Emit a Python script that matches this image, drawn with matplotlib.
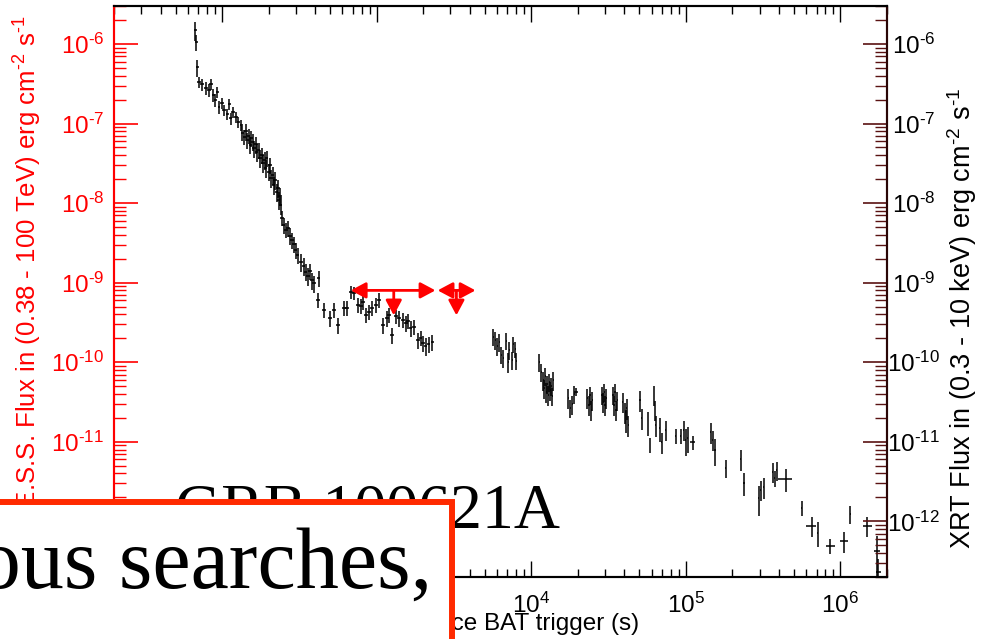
import matplotlib
matplotlib.use("Agg")
import numpy as np
import matplotlib.pyplot as plt
from matplotlib.patches import Rectangle
from matplotlib.ticker import LogLocator, NullFormatter, FixedLocator, FuncFormatter
from matplotlib.transforms import offset_copy

plt.rcParams['font.family'] = 'Liberation Sans'
plt.rcParams['mathtext.fontset'] = 'custom'
plt.rcParams['mathtext.rm'] = 'Liberation Sans'
plt.rcParams['mathtext.it'] = 'Liberation Sans:italic'
plt.rcParams['mathtext.bf'] = 'Liberation Sans:bold'

# Swift-XRT light curve (0.3 - 10 keV)
xrt_time = [
    67, 68, 69, 71, 74,
    78.8, 82.4, 84.9, 87.5, 90.1, 92.9, 95.7, 100, 103, 108, 111, 114, 118, 123, 127, 133,
    135, 139, 143, 145, 149, 152, 154, 158, 161, 166, 168, 173, 176, 181, 184, 189, 192, 195,
    201, 204, 207, 213, 216, 220, 226, 230, 233, 237, 240,
    244, 251, 259, 267, 275, 283, 292, 300, 309, 324, 338, 348, 359, 370, 381, 393, 422,
    416, 455, 498, 528, 560, 613, 640, 680, 711, 754, 789, 813, 849, 888, 929, 986, 1031,
    1093, 1161, 1195, 1250, 1327, 1387, 1472, 1540, 1585, 1657, 1734, 1840, 1923, 1982,
    2072, 2165, 2297,
    5690, 5860, 6040, 6220, 6400, 6590, 6900, 7110, 7210, 7540, 7650, 7890, 8000,
    11270, 11600, 11950, 12130, 12300, 12500, 12680, 12900, 13060, 13300, 13460, 13650, 13900,
    17350, 17900, 18400, 18940, 19500,
    23000, 23650, 24000, 24400, 24800,
    28700, 29200, 29600, 30000, 30500,
    33800, 34300, 34800, 35300, 35900,
    39200, 40400, 41000, 41600, 42300,
    50500, 52000, 56900, 58600, 62200, 63100, 64000, 68000, 70000, 74300,
    86100, 92900, 97100, 100000, 103000, 111000,
    145000, 149000, 154000, 181000, 226000, 237000, 296000, 305000, 318000,
    364000, 375000, 386000, 442000, 560000, 650000, 711000, 861000, 1060000, 1160000,
    1490000, 1730000, 1760000,
]
xrt_time_err = [
    1.5, 1.5, 1.5, 2, 2,
    2, 2, 2, 2, 2, 2, 2, 2.5, 2.5, 2.5, 2.5, 2.5, 3, 3, 3, 3,
    3, 3, 3.5, 3.5, 3.5, 3.5, 3.5, 4, 4, 4, 4, 4, 4, 4.5, 4.5, 4.5, 4.5, 4.5,
    5, 5, 5, 5, 5, 5, 5.5, 5.5, 5.5, 6, 6,
    6, 6, 6.5, 6.5, 7, 7, 7, 7.5, 7.5, 8, 8, 8.5, 9, 9, 9.5, 10, 10,
    12, 13, 15, 15, 16, 18, 19, 20, 21, 22, 23, 24, 25, 26, 27, 29, 30,
    32, 34, 35, 37, 39, 41, 43, 45, 46, 48, 50, 54, 56, 58,
    60, 63, 67,
    60, 60, 60, 60, 60, 60, 60, 60, 60, 60, 60, 60, 60,
    100, 100, 100, 100, 100, 100, 100, 100, 100, 100, 100, 100, 100,
    150, 150, 150, 150, 700,
    200, 200, 200, 200, 200,
    250, 250, 250, 250, 250,
    300, 300, 300, 300, 300,
    300, 300, 300, 300, 300,
    400, 400, 400, 400, 400, 400, 400, 500, 500, 500,
    600, 600, 600, 600, 600, 4000,
    1500, 1500, 1500, 2000, 2500, 2500, 3000, 3000, 3000,
    4000, 4000, 4000, 46000, 5000, 47000, 6000, 55000, 60000, 8000,
    100000, 70000, 70000,
]
xrt_flux = [
    1.5e-6, 1.06e-6, 5.1e-7, 3.3e-7, 3.1e-7,
    2.8e-7, 2.64e-7, 3.14e-7, 2.29e-7, 1.98e-7, 2.5e-7, 1.62e-7, 1.81e-7, 1.48e-7, 1.32e-7,
    1.76e-7, 1.17e-7, 1.40e-7, 1.21e-7, 1.05e-7, 9.6e-8,
    7.6e-8, 6.8e-8, 8.1e-8, 6.2e-8, 7.0e-8, 5.4e-8, 6.6e-8, 5.9e-8, 4.9e-8, 5.5e-8, 4.4e-8,
    4.66e-8, 3.7e-8, 4.03e-8, 3.2e-8, 3.49e-8, 2.77e-8, 3.7e-8,
    2.47e-8, 3.0e-8, 2.07e-8, 2.26e-8, 1.69e-8, 1.95e-8, 1.38e-8, 1.55e-8, 1.10e-8, 1.23e-8, 9.5e-9,
    6.5e-9, 5.3e-9, 4.6e-9, 4.9e-9, 3.9e-9, 3.45e-9, 3.07e-9, 2.58e-9, 2.23e-9, 1.82e-9,
    1.63e-9, 1.37e-9, 1.22e-9, 1.41e-9, 1.08e-9, 9.9e-10, 1.15e-9,
    6.1e-10, 4.55e-10, 3.61e-10, 4.55e-10, 2.95e-10, 4.8e-10, 4.8e-10, 7.7e-10, 7.45e-10,
    5.3e-10, 5.1e-10, 5.7e-10, 3.94e-10, 4.3e-10, 4.8e-10, 5.3e-10, 6.1e-10,
    2.95e-10, 3.61e-10, 3.94e-10, 2.21e-10, 3.8e-10, 3.61e-10, 3.41e-10, 3.13e-10, 3.3e-10,
    2.7e-10, 2.79e-10, 1.91e-10, 2.03e-10, 1.75e-10, 1.6e-10, 1.7e-10, 1.8e-10,
    2.08e-10, 1.91e-10, 1.61e-10, 1.80e-10, 1.24e-10, 1.14e-10, 1.86e-10, 1.01e-10, 1.43e-10,
    1.07e-10, 1.70e-10, 1.47e-10, 1.04e-10,
    1.01e-10, 7.6e-11, 6.0e-11, 4.76e-11, 6.75e-11, 4.25e-11, 5.36e-11, 3.9e-11, 5.67e-11,
    4.5e-11, 5.06e-11, 3.79e-11, 6.0e-11,
    3.57e-11, 2.67e-11, 3.0e-11, 4.0e-11, 4.25e-11,
    3.57e-11, 2.92e-11, 3.9e-11, 2.52e-11, 3.37e-11,
    3.9e-11, 3.18e-11, 4.25e-11, 2.92e-11, 3.57e-11,
    3.9e-11, 2.92e-11, 4.25e-11, 2.52e-11, 3.37e-11,
    3.18e-11, 2.38e-11, 1.89e-11, 2.67e-11, 1.64e-11,
    3.37e-11, 2.0e-11, 1.78e-11, 9.2e-12, 3.9e-11, 2.52e-11, 1.64e-11, 1.5e-11, 1.0e-11, 1.42e-11,
    1.19e-11, 1.19e-11, 1.42e-11, 1.06e-11, 1.12e-11, 1.0e-11,
    1.34e-11, 1.06e-11, 7.9e-12, 4.7e-12, 6.1e-12, 3.06e-12, 1.98e-12, 2.49e-12, 2.72e-12,
    4.2e-12, 3.53e-12, 4.4e-12, 3.43e-12, 1.48e-12, 8.8e-13, 7.2e-13, 4.93e-13, 5.7e-13, 1.25e-12,
    8.8e-13, 4.27e-13, 2.33e-13,
]
xrt_flux_err = [
    4.0e-7, 2.5e-7, 1.2e-7, 5e-8, 5e-8,
    5e-8, 5e-8, 5e-8, 4e-8, 3.5e-8, 4e-8, 3e-8, 3e-8, 2.5e-8, 2.2e-8,
    3e-8, 2e-8, 2.2e-8, 2e-8, 1.7e-8, 1.5e-8,
    1.6e-8, 1.5e-8, 1.7e-8, 1.4e-8, 1.5e-8, 1.3e-8, 1.5e-8, 1.4e-8, 1.2e-8, 1.3e-8, 1.1e-8,
    1.1e-8, 9e-9, 9.5e-9, 8e-9, 8.5e-9, 7e-9, 8.5e-9,
    6e-9, 7e-9, 5e-9, 5.5e-9, 4.2e-9, 4.8e-9, 3.5e-9, 4e-9, 2.8e-9, 3e-9, 2.4e-9,
    1.4e-9, 1.2e-9, 1.0e-9, 1.1e-9, 9e-10, 8e-10, 7e-10, 6e-10, 5e-10, 4.5e-10,
    4e-10, 3.3e-10, 3e-10, 3.3e-10, 2.6e-10, 2.4e-10, 2.7e-10,
    1.3e-10, 1.0e-10, 8e-11, 1.0e-10, 7e-11, 1.0e-10, 1.0e-10, 1.4e-10, 1.4e-10,
    1.1e-10, 1.1e-10, 1.2e-10, 8e-11, 9e-11, 1.0e-10, 1.1e-10, 1.3e-10,
    7e-11, 8e-11, 8e-11, 5e-11, 8e-11, 8e-11, 7e-11, 7e-11, 7e-11,
    6e-11, 6e-11, 4.5e-11, 4.5e-11, 4e-11, 4e-11, 4e-11, 4e-11,
    5e-11, 5e-11, 4e-11, 4.5e-11, 3e-11, 3e-11, 4.5e-11, 2.8e-11, 3.5e-11,
    2.8e-11, 4e-11, 3.5e-11, 2.5e-11,
    2.5e-11, 2e-11, 1.6e-11, 1.3e-11, 1.7e-11, 1.2e-11, 1.4e-11, 1.1e-11, 1.5e-11,
    1.2e-11, 1.3e-11, 1.0e-11, 1.6e-11,
    1.0e-11, 7e-12, 8e-12, 1.0e-11, 5e-12,
    1.0e-11, 8e-12, 1.0e-11, 7e-12, 9e-12,
    1.0e-11, 9e-12, 1.1e-11, 8e-12, 1.0e-11,
    1.0e-11, 8e-12, 1.1e-11, 7e-12, 9e-12,
    9e-12, 7e-12, 6e-12, 8e-12, 5e-12,
    1.0e-11, 6e-12, 6e-12, 2e-12, 1.1e-11, 7e-12, 5e-12, 5e-12, 3e-12, 4e-12,
    2.5e-12, 2.5e-12, 4e-12, 4e-12, 4e-12, 2e-12,
    4e-12, 3e-12, 3e-12, 1.2e-12, 1.8e-12, 1.0e-12, 8e-13, 7e-13, 8e-13,
    1.2e-12, 8e-13, 1.2e-12, 1.1e-12, 3e-13, 2.5e-13, 2.5e-13, 1.0e-13, 1.7e-13, 3.3e-13,
    2.5e-13, 2.3e-13, 1.0e-13,
]

# H.E.S.S. upper limits (0.38 - 100 TeV)
hess_t_lo = [680, 2480]
hess_t_hi = [2400, 4360]
hess_t_mid = [1290, 3280]
hess_ul = [8.0e-10, 8.0e-10]

x_major = [1e2, 1e3, 1e4, 1e5, 1e6]
y_major = [1e-12, 1e-11, 1e-10, 1e-9, 1e-8, 1e-7, 1e-6]

W, H = 989, 639
fig = plt.figure(figsize=(W / 100, H / 100), dpi=100)
ax = fig.add_axes([114 / W, 62 / H, 773 / W, 571 / H])

ax.errorbar(xrt_time, xrt_flux, xerr=xrt_time_err, yerr=xrt_flux_err,
            fmt='none', ecolor='black', elinewidth=1.1, capsize=0, zorder=2)

ax.set_xscale('log')
ax.set_yscale('log')
ax.set_xlim(20, 2e6)
ax.set_ylim(2e-13, 3e-6)

# upper limits: horizontal interval arrows plus a downward arrow
head = dict(arrowstyle='-|>,head_length=0.45,head_width=0.24', color='red',
            lw=2.0, mutation_scale=20, shrinkA=0, shrinkB=0)
down = offset_copy(ax.transData, fig=fig, x=0, y=-18, units='points')
for lo, hi, mid, ul in zip(hess_t_lo, hess_t_hi, hess_t_mid, hess_ul):
    ax.annotate('', xy=(lo, ul), xytext=(mid, ul), arrowprops=head)
    ax.annotate('', xy=(hi, ul), xytext=(mid, ul), arrowprops=head)
    ax.annotate('', xy=(mid, ul), xycoords=down, xytext=(mid, ul),
                textcoords='data', arrowprops=head)

red = '#ff0000'
dark = '#5a1212'
fs = 17.5


def pow10(v, pos):
    return r'$10^{\text{%d}}$' % int(round(np.log10(v)))


ax.xaxis.set_major_locator(FixedLocator(x_major))
ax.xaxis.set_major_formatter(FuncFormatter(pow10))
ax.xaxis.set_minor_locator(LogLocator(base=10, subs=range(2, 10), numticks=20))
ax.xaxis.set_minor_formatter(NullFormatter())
ax.yaxis.set_major_locator(FixedLocator(y_major))
ax.yaxis.set_major_formatter(FuncFormatter(pow10))
ax.yaxis.set_minor_locator(LogLocator(base=10, subs=range(2, 10), numticks=20))
ax.yaxis.set_minor_formatter(NullFormatter())

ax.tick_params(axis='x', which='both', direction='in', top=True, bottom=True,
               color='black', labelsize=fs, pad=11)
ax.tick_params(axis='x', which='major', length=11.5, width=1.0)
ax.tick_params(axis='x', which='minor', length=5.8, width=1.0)
ax.tick_params(axis='y', which='both', direction='in', left=True, right=False,
               color=red, labelcolor=red, labelsize=fs, pad=7)
ax.tick_params(axis='y', which='major', length=17, width=1.2)
ax.tick_params(axis='y', which='minor', length=8.6, width=1.0)

ax2 = ax.twinx()
ax2.set_yscale('log')
ax2.set_ylim(ax.get_ylim())
ax2.yaxis.set_major_locator(FixedLocator(y_major))
ax2.yaxis.set_major_formatter(FuncFormatter(pow10))
ax2.yaxis.set_minor_locator(LogLocator(base=10, subs=range(2, 10), numticks=20))
ax2.yaxis.set_minor_formatter(NullFormatter())
ax2.tick_params(axis='y', which='both', direction='in', color=dark,
                labelcolor='black', labelsize=fs, pad=19)
ax2.tick_params(axis='y', which='major', length=17, width=1.2)
ax2.tick_params(axis='y', which='minor', length=8.6, width=1.0)
for lbl in ax2.get_yticklabels():
    lbl.set_horizontalalignment('center')

for a in (ax, ax2):
    for side in ('top', 'bottom'):
        a.spines[side].set_color('black')
        a.spines[side].set_linewidth(1.5)
    a.spines['left'].set_color(red)
    a.spines['left'].set_linewidth(1.5)
    a.spines['right'].set_color('#2a0606')
    a.spines['right'].set_linewidth(1.5)

fig.text(28 / W, 1 - 15 / H,
         r'H.E.S.S. Flux in (0.38 - 100 TeV) erg cm$^{\text{-2}}$ s$^{\text{-1}}$',
         rotation=90, color=red, fontsize=18.6, ha='center', va='top')
fig.text(962 / W, 1 - 88 / H,
         r'XRT Flux in (0.3 - 10 keV) erg cm$^{\text{-2}}$ s$^{\text{-1}}$',
         rotation=90, color='black', fontsize=19.5, ha='center', va='top')
fig.text(500 / W, 1 - 630 / H, 'Time since BAT trigger (s)',
         fontsize=17.5, ha='center', va='baseline')

fig.text(175 / W, 1 - 527 / H, 'GRB 100621A', family='Liberation Serif',
         fontsize=46, ha='left', va='baseline', zorder=5)

box = Rectangle((-0.05, -0.05), 0.05 + 451.7 / W, 0.05 + (H - 501.5) / H,
                transform=fig.transFigure, facecolor='white', edgecolor='#ff2a00',
                lw=4.3, zorder=10, clip_on=False)
fig.add_artist(box)
fig.text(432 / W, 1 - 588 / H, 'Previous searches,', family='Liberation Serif',
         fontsize=62, ha='right', va='baseline', zorder=11)

fig.savefig('out.png', dpi=100)
